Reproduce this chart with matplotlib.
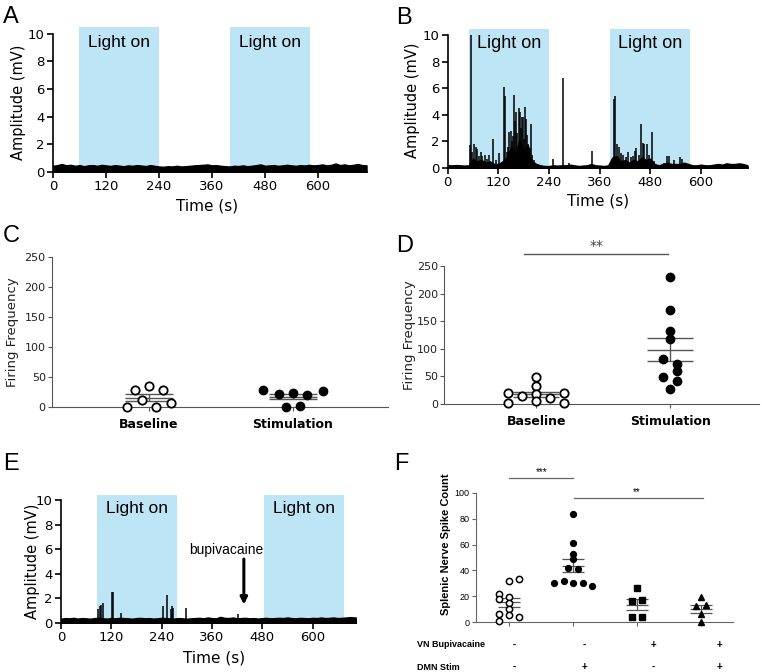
import numpy as np
import matplotlib
matplotlib.use('Agg')
import matplotlib.pyplot as plt
from matplotlib.patches import Rectangle

# ---------------- data ----------------
# trace noise envelope, one value every 10 s (0..710 s)
t_noise = np.arange(0, 720, 10)
a_noise = [0.45, 0.50, 0.58, 0.48, 0.52, 0.45, 0.50, 0.42, 0.48, 0.50,
           0.45, 0.52, 0.48, 0.44, 0.50, 0.46, 0.42, 0.48, 0.45, 0.50,
           0.47, 0.43, 0.50, 0.45, 0.40, 0.38, 0.42, 0.40, 0.45, 0.40,
           0.42, 0.45, 0.48, 0.50, 0.52, 0.55, 0.48, 0.50, 0.45, 0.42,
           0.40, 0.45, 0.43, 0.48, 0.42, 0.45, 0.50, 0.55, 0.45, 0.48,
           0.50, 0.45, 0.48, 0.52, 0.48, 0.45, 0.50, 0.47, 0.52, 0.48,
           0.50, 0.55, 0.48, 0.52, 0.62, 0.50, 0.55, 0.48, 0.52, 0.58, 0.50, 0.48]
b_noise = [0.22, 0.20, 0.22, 0.20, 0.18, 0.20, 0.70, 0.50, 0.60, 0.40,
           0.50, 0.30, 0.30, 0.50, 0.80, 1.60, 1.10, 2.10, 1.30, 1.70,
           0.50, 0.30, 0.20, 0.15, 0.15, 0.20, 0.18, 0.20, 0.20, 0.25,
           0.20, 0.15, 0.18, 0.20, 0.30, 0.20, 0.18, 0.15, 0.20, 0.80,
           0.90, 0.50, 0.60, 0.40, 0.60, 0.50, 0.80, 0.60, 0.70, 0.30,
           0.20, 0.30, 0.40, 0.30, 0.30, 0.30, 0.40, 0.30, 0.20, 0.20,
           0.25, 0.20, 0.20, 0.25, 0.30, 0.25, 0.35, 0.30, 0.30, 0.35, 0.30, 0.20]
e_noise = [0.35, 0.40, 0.38, 0.42, 0.36, 0.40, 0.38, 0.35, 0.40, 0.42,
           0.38, 0.36, 0.40, 0.38, 0.42, 0.40, 0.38, 0.35, 0.40, 0.42,
           0.38, 0.40, 0.36, 0.38, 0.42, 0.40, 0.38, 0.36, 0.40, 0.38,
           0.35, 0.38, 0.40, 0.42, 0.38, 0.45, 0.40, 0.38, 0.50, 0.42,
           0.40, 0.45, 0.38, 0.40, 0.42, 0.38, 0.40, 0.36, 0.40, 0.42,
           0.38, 0.40, 0.42, 0.40, 0.45, 0.40, 0.38, 0.42, 0.40, 0.38,
           0.42, 0.40, 0.45, 0.40, 0.42, 0.45, 0.40, 0.42, 0.45, 0.48, 0.45, 0.42]

# spikes (time s, amplitude mV)
b_spk_t = [53, 55, 57, 62, 66, 70, 74, 78, 82, 88, 92, 98, 108, 115, 122,
           133, 136, 140, 143, 146, 149, 152, 154, 156, 159, 162, 165, 168, 171, 174,
           177, 179, 181, 183, 186, 188, 191, 194, 197, 200, 205, 250, 273, 287,
           341, 393, 397, 400, 405, 410, 415, 422, 426, 433, 438, 443, 447,
           452, 458, 463, 466, 471, 476, 484, 488, 512, 520, 524, 535, 551, 555]
b_spk_a = [1.7, 10.0, 1.2, 1.8, 1.6, 1.4, 0.9, 1.2, 0.9, 1.0, 0.7, 1.0, 2.2, 0.6, 1.1,
           6.1, 5.4, 1.2, 1.6, 2.7, 2.8, 2.0, 2.4, 5.5, 3.5, 4.2, 2.6, 4.5, 4.2, 3.0,
           3.8, 3.8, 2.2, 4.6, 3.7, 2.5, 1.8, 1.5, 3.3, 1.0, 0.6, 0.7, 6.8, 0.4,
           1.3, 5.2, 5.4, 1.8, 1.6, 1.1, 1.0, 0.8, 1.2, 0.8, 0.9, 1.3, 1.5,
           1.0, 3.3, 1.9, 1.8, 1.8, 1.0, 2.7, 0.5, 0.4, 0.9, 0.9, 0.6, 0.8, 0.7]
e_spk_t = [89, 92, 96, 100, 121, 125, 142, 244, 252, 263, 265, 268, 297, 378, 422]
e_spk_a = [1.1, 1.4, 1.5, 1.6, 2.5, 2.5, 0.8, 1.4, 2.3, 1.1, 1.4, 1.2, 1.2, 0.5, 0.7]

light_a = [(59, 240), (400, 582)]
light_b = [(50, 240), (384, 574)]
light_e = [(86, 276), (483, 674)]

# firing frequency
groups_cd = ['Baseline', 'Stimulation']
c_base = [1, 28, 12, 35, 1, 28, 7]
c_stim = [29, 22, 1, 24, 2, 20, 27]
d_base = [20, 2, 15, 49, 32, 19, 5, 10, 20, 2]
d_stim = [231, 171, 133, 118, 81, 73, 60, 49, 41, 28]

# splenic nerve spike count
f_g1 = [22, 18, 6.5, 1, 32, 19.5, 15, 10.4, 5.2, 33, 4]
f_g2 = [84, 61, 53, 49, 42, 41, 30, 32, 30, 30, 28]
f_g3 = [26, 16, 17, 4, 4]
f_g4 = [19, 12.5, 13, 6.5, 0]
vn_bupi = ['-', '-', '+', '+']
dmn_stim = ['-', '+', '-', '+']

# jitter of points within a column
c_base_dx = [-0.155, -0.10, -0.05, 0, 0.05, 0.10, 0.155]
c_stim_dx = [-0.21, -0.10, -0.05, 0, 0.05, 0.10, 0.21]
d_base_dx = [-0.21, -0.21, -0.105, 0, 0, 0, 0, 0.105, 0.21, 0.21]
d_stim_dx = [0, 0, 0, 0, -0.055, 0.05, 0.05, -0.055, 0.05, 0]
f_g1_dx = [-0.16, -0.16, -0.16, -0.16, 0, 0, 0, 0, 0, 0.16, 0.16]
f_g2_dx = [0, 0, 0, 0, -0.08, 0.08, -0.3, -0.15, 0, 0.15, 0.3]
f_g3_dx = [0, -0.08, 0.08, -0.08, 0.08]
f_g4_dx = [0, -0.08, 0.08, 0, 0]

SANS = 'Liberation Sans'
BLUE = '#bde5f6'

fig = plt.figure(figsize=(7.62, 6.72), dpi=100)


def trace_panel(ax, noise, spk_t, spk_a, lights, xmax, light_fs):
    for x0, x1 in lights:
        ax.add_patch(Rectangle((x0, 0), x1 - x0, 10.45, facecolor=BLUE, lw=0,
                               clip_on=False, zorder=0))
        ax.text((x0 + x1) / 2, 9.35, 'Light on', ha='center', va='center',
                fontsize=light_fs, family=SANS)
    ax.fill_between(t_noise, 0, noise, color='black', lw=1.0, zorder=2)
    ax.vlines(spk_t, 0, spk_a, color='black', lw=1.1, zorder=2)
    ax.set_xlim(0, xmax)
    ax.set_ylim(0, 10)
    ax.set_xticks([0, 120, 240, 360, 480, 600])
    ax.set_yticks([0, 2, 4, 6, 8, 10])
    for s in ['top', 'right']:
        ax.spines[s].set_visible(False)
    for s in ['left', 'bottom']:
        ax.spines[s].set_linewidth(1.2)
    ax.tick_params(direction='out', length=4, width=1.2, labelsize=9.5, pad=2)
    ax.patch.set_alpha(0)


def mean_sem(ax, x, vals, w, color, lw):
    m = np.mean(vals)
    s = np.std(vals, ddof=1) / np.sqrt(len(vals))
    ax.hlines([m - s, m, m + s], x - w, x + w, color=color, lw=lw, zorder=2)
    ax.vlines(x, m - s, m + s, color=color, lw=lw, zorder=2)


def dot_panel(ax, base, base_dx, stim, stim_dx, ylab_x):
    ax.plot(np.array(base_dx) + 0, base, 'o', ms=6, mfc='white', mec='black',
            mew=1.3, clip_on=False, zorder=3)
    ax.plot(np.array(stim_dx) + 1, stim, 'o', ms=6, mfc='black', mec='black',
            clip_on=False, zorder=3)
    mean_sem(ax, 0, base, 0.17, '#555555', 1.0)
    mean_sem(ax, 1, stim, 0.17, '#555555', 1.0)
    ax.set_ylim(0, 250)
    ax.set_yticks([0, 50, 100, 150, 200, 250])
    ax.set_xticks([0, 1])
    ax.set_xticklabels(groups_cd, fontweight='bold', fontsize=9)
    for s in ['top', 'right']:
        ax.spines[s].set_visible(False)
    for s in ['left', 'bottom']:
        ax.spines[s].set_color('#555555')
    ax.tick_params(axis='y', direction='out', length=3, color='#555555',
                   labelsize=8, pad=1.5, labelcolor='#222222')
    ax.tick_params(axis='x', direction='out', length=3, color='#555555', pad=5)
    ax.text(ylab_x, 0.5, 'Firing Frequency', rotation=90, ha='center', va='center',
            fontsize=9.5, transform=ax.transAxes, color='#222222')


# ---- A ----
axA = fig.add_axes([0.0696, 0.744, 0.412, 0.206])
trace_panel(axA, a_noise, [], [], light_a, 711, 12.5)
axA.text(-0.111, 0.505, 'Amplitude (mV)', rotation=90, ha='center', va='center',
         fontsize=10.5, transform=axA.transAxes)
axA.text(0.49, -0.245, 'Time (s)', ha='center', va='center', fontsize=11,
         transform=axA.transAxes)

# ---- B ----
axB = fig.add_axes([0.5875, 0.75, 0.394, 0.198])
trace_panel(axB, b_noise, b_spk_t, b_spk_a, light_b, 711, 13)
axB.text(-0.116, 0.51, 'Amplitude (mV)', rotation=90, ha='center', va='center',
         fontsize=10.5, transform=axB.transAxes)
axB.text(0.50, -0.25, 'Time (s)', ha='center', va='center', fontsize=11,
         transform=axB.transAxes)

# ---- C ----
axC = fig.add_axes([0.0682, 0.394, 0.441, 0.223])
dot_panel(axC, c_base, c_base_dx, c_stim, c_stim_dx, -0.116)
axC.set_xlim(-0.674, 1.66)

# ---- D ----
axD = fig.add_axes([0.5827, 0.3988, 0.413, 0.205])
dot_panel(axD, d_base, d_base_dx, d_stim, d_stim_dx, -0.111)
axD.set_xlim(-0.687, 1.66)
axD.plot([-0.09, 0.985], [272, 272], color='#555555', lw=1.0, clip_on=False)
axD.text(0.45, 286, '**', ha='center', va='center', fontsize=10, color='#444444')

# ---- E ----
axE = fig.add_axes([0.080, 0.0729, 0.387, 0.183])
trace_panel(axE, e_noise, e_spk_t, e_spk_a, light_e, 703, 12.5)
axE.text(-0.095, 0.50, 'Amplitude (mV)', rotation=90, ha='center', va='center',
         fontsize=10.5, transform=axE.transAxes)
axE.text(0.52, -0.285, 'Time (s)', ha='center', va='center', fontsize=11,
         transform=axE.transAxes)
axE.text(393, 5.9, 'bupivacaine', ha='center', va='center', fontsize=10, family=SANS)
axE.annotate('', xy=(436, 1.5), xytext=(436, 5.2),
             arrowprops=dict(arrowstyle='-|>', lw=2.2, color='black',
                             mutation_scale=10, shrinkA=0, shrinkB=0))

# ---- F ----
axF = fig.add_axes([0.6247, 0.0744, 0.337, 0.192])
f_groups = [f_g1, f_g2, f_g3, f_g4]
f_dx = [f_g1_dx, f_g2_dx, f_g3_dx, f_g4_dx]
f_style = [dict(marker='o', mfc='white', ms=4.5, mew=1.1),
           dict(marker='o', mfc='black', ms=4.2),
           dict(marker='s', mfc='black', ms=4.2),
           dict(marker='^', mfc='black', ms=4.5)]
for i, (vals, dx, st) in enumerate(zip(f_groups, f_dx, f_style)):
    axF.plot(np.array(dx) + i, vals, ls='none', mec='black', clip_on=False,
             zorder=3, **st)
    mean_sem(axF, i, vals, 0.17, '#555555', 0.9)
axF.set_xlim(-0.52, 3.5)
axF.set_ylim(0, 100)
axF.set_yticks([0, 20, 40, 60, 80, 100])
axF.set_xticks([0, 1, 2, 3])
axF.set_xticklabels([])
for s in ['top', 'right']:
    axF.spines[s].set_visible(False)
for s in ['left', 'bottom']:
    axF.spines[s].set_color('#666666')
axF.tick_params(direction='out', length=3, color='#666666', labelsize=6.5, pad=1.5)
for lab in axF.get_yticklabels():
    lab.set_family(SANS)
axF.text(-0.117, 0.6, 'Splenic Nerve Spike Count', rotation=90, ha='center',
         va='center', fontsize=8, fontweight='bold', family=SANS,
         transform=axF.transAxes)
axF.plot([0, 1], [111.5, 111.5], color='#666666', lw=0.9, clip_on=False)
axF.text(0.5, 116, '***', ha='center', va='center', fontsize=7, family=SANS)
axF.plot([1.02, 3.03], [96, 96], color='#666666', lw=0.9, clip_on=False)
axF.text(2.0, 100.5, '**', ha='center', va='center', fontsize=7, family=SANS)

row_tr = axF.get_xaxis_transform()
axF.text(-0.23, -0.178, 'VN Bupivacaine', ha='left', va='center', fontsize=6.5,
         fontweight='bold', family=SANS, transform=axF.transAxes)
axF.text(-0.23, -0.349, 'DMN Stim', ha='left', va='center', fontsize=6.5,
         fontweight='bold', family=SANS, transform=axF.transAxes)
sign_dx = [0.08, 0.18, 0.26, 0.29]
for i in range(4):
    axF.text(i + sign_dx[i], -0.178, vn_bupi[i], ha='center', va='center',
             fontsize=7, fontweight='bold', family=SANS, transform=row_tr)
    axF.text(i + sign_dx[i], -0.349, dmn_stim[i], ha='center', va='center',
             fontsize=7, fontweight='bold', family=SANS, transform=row_tr)

# panel letters
for x, y, lab in [(0.004, 0.9658, 'A'), (0.5197, 0.9643, 'B'),
                  (0.003, 0.640, 'C'), (0.5197, 0.625, 'D'),
                  (0.004, 0.3006, 'E'), (0.517, 0.3006, 'F')]:
    fig.text(x, y, lab, fontsize=17, family=SANS, va='baseline', ha='left')

fig.savefig('out.png', dpi=100)
